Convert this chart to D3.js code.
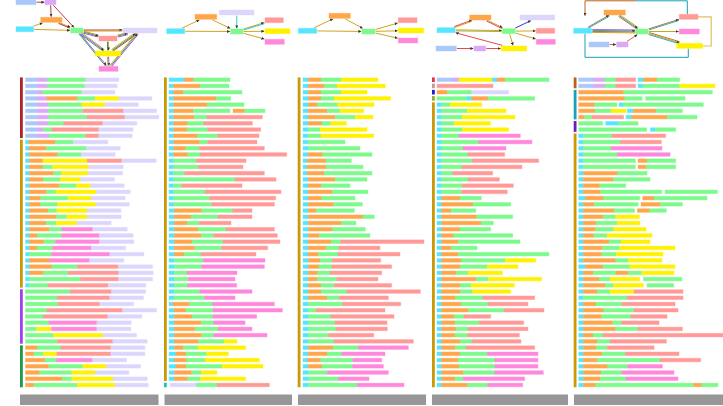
<!DOCTYPE html>
<html><head><meta charset="utf-8">
<script src="https://cdn.jsdelivr.net/npm/d3@7"></script>
<style>body{margin:0;background:#fff}svg{display:block}</style></head>
<body><svg id="c" width="723" height="406"></svg>
<script>
// ---------- DATA ----------
const activityColors = {A:"#aac8fa",V:"#dca8f8",G:"#7dfa8c",L:"#dcd6fc",O:"#ffa64a",Y:"#fff200",S:"#ff9a98",P:"#ff88dc",C:"#55e5ff"};
const gold = "#c99a06";

const panel1Rows = [
"A36 V30 G115 L99","A36 V30 G112 L97","A36 V15 G118 L99","A35 V29 O92 G53 Y71 L99","A36 V33 G100 Y69 L100",
"A36 V33 G104 S121 L99","A36 V33 G116 S113 L102","A36 V33 G45 S118 L102","A36 V17 G26 S141 L103","A36 V35 G110 S39 L100",
"C10 O80 G54 L103","C11 O51 G121 L101","C12 O84 G71 L102","C12 O40 Y133 S104 L103","C12 O41 G28 Y109 L103",
"C12 O72 G24 Y80 L103","C12 O41 G51 Y61 L102","C12 O90 G50 Y42 L102","C12 O51 G28 Y122 L101","C12 O33 G82 Y70 L102",
"C12 O33 G51 Y114 L101","C12 O56 G26 Y91 L101","C12 O81 G30 Y62 L102","C12 O50 G30 Y62 L103","C12 O59 G38 P93 L103",
"C12 O23 G74 P113 L101","C12 O43 G35 P132 L103","C12 O23 G46 P117 L102","C12 G66 P175 L102","C12 O60 P120 L103",
"C12 O67 G77 S122 L103","C12 O42 G74 S152 L103","C12 G153 S114 L102","C12 G56 S180 L113",
"G134 S124 L102","G95 S158 L101","G98 S125 L101","G64 S227 L102","G53 S194 L102","G70 P144 L103","G33 Y45 P136 L102",
"G84 Y148 L101","G96 S166 L103",
"O35 G71 S150 L102","O25 G29 Y40 S162 L102","O59 G34 P108 L102","O70 G102 Y70 L103","O42 G97 Y70 L101",
"O110 G29 Y124 L102","O25 G130 Y113 L100"];
const panel1Groups = [10,24,9,7];
const panel1GroupColors = ["#b22222",gold,"#a040f0","#1a9a4a"];

const panel2Rows = [
"C47 O27 G109","C14 O79 G87","C14 O29 G176","C14 O127 G44","C14 O100 G111","C14 O59 G110 _9 O35 G61",
"C14 O62 G38 S166","C14 O42 G48 S146","C14 O40 G62 S159","C14 O71 G61 S124","C14 O78 G24 S148","C14 O36 G41 S195",
"C14 O42 G37 S260","C14 G68 S149","C14 G75 S133","C14 G33 S239","C14 G184 S123","C14 G25 S180","C14 G94 S228",
"C14 G108 S198","C14 G114 S188","C16 O82 G93 S58","C16 O50 G81 S102","C16 O39 G36 S95","C16 O71 G84 S145",
"C16 O81 G38 S190","C16 O53 G93 S171","C16 O61 G81 S138","C16 O29 G51 S165","C16 G87 P185","C16 G82 P188",
"C16 G38 P150","C16 G42 P140","C16 G40 P147","C16 G76 P157","C16 G91 P91","C11 O50 G69 P186","C16 O35 G81 P208",
"C16 O53 G63 P131","C16 O80 G38 P94","C16 O63 G68 P102","C16 O82 G37 P159","C16 O72 G77 Y39","C16 O27 G44 Y143",
"C21 O30 G62 Y65","C16 O37 G56 Y162","C21 O30 G108 Y123","C16 O52 G29 Y47","C16 O40 G39 Y135","_3 L79 G62 S157"];
const panel2Groups = [49,1];
const panel2GroupColors = [gold,"#1cc4c8"];

const panel3Rows = [
"C16 O38 G60 Y111","C16 O48 G38 Y145","C16 O38 G60 Y78","C16 O38 G39 Y170","C16 O27 G61 Y109","C16 O57 G38 Y71",
"C16 O81 G59 Y54","C16 O41 G26 Y47","C16 G36 Y140","C16 G38 Y158","C16 G110","C16 G155","C16 O43 G148",
"C13 O56 G76","C13 O57 G110","C13 O51 G143","C16 O81 G95","C16 O38 G87","C16 O72 G107","C16 O40 G100",
"C16 O76 G86","C16 O24 G114","C16 O164 G34","C16 O99 G44","C16 O73 G98","C16 O33 G152","C16 O68 G29 S250",
"C16 O54 G37 S124","C16 O30 G59 S186","C16 O35 G37 S145","C16 O32 G39 S179","C16 O28 G37 S155","C16 O26 G59 S124",
"C16 O38 G40 S172","C16 O38 G77 S221","C16 O56 G37 S147","C16 G103 S174","C16 G24 S206","C16 G68 S189",
"C16 G80 S156","C16 G83 S154","C16 G60 S136","C16 G77 S238","C16 O74 G76 P150","C16 O56 G45 P129",
"C14 O39 G97 P86","C16 O41 G91 P93","C16 G57 P183","C16 G90 P92","C16 G147 P140"];
const panel3Groups = [50];
const panel3GroupColors = [gold];

const panel4Rows = [
"A48 V18 Y100 C15 O24 G131","S168","O31 G73 L111","G90 C14 O49 G140","C14 G25 Y95","C14 G77 Y116","C14 G62 Y158",
"C14 G37 Y109","C14 G62 Y139","C14 G52 P184","C14 G111 P160","C14 G64 P129","C14 G79 S110","C14 G91 S200",
"C14 G61 S180","C14 G33 S120","C14 G79 S94","C14 G62 S153","C14 G60 S137","C14 O55 G64","C14 O94 G113",
"C14 O28 G74","C14 O105 G108","C14 O118 G37","C14 O55 G92","C14 O36 G177","C14 O50 G185","C14 O29 G77",
"C14 O50 G272","C14 O58 G133 Y91","C14 O56 G81 Y92","C14 O43 G36 Y103","C14 O103 G36 Y161","C14 O56 G32 Y130",
"C14 O55 G38 Y114","C14 O40 G83 S156","C14 O58 G81 S120","C14 O79 G108 S120","C14 O37 G30 S80","C14 O40 G73 S133",
"C14 O43 G36 S180","C14 O40 G37 S156","C14 O55 G36 S147","C14 O41 G32 S206","C14 O55 G82 P152","C14 O49 G111 P129",
"C14 O52 G108 P129","C14 O65 G94 P146","C14 O40 G25 P184","C14 O78 G60 P105"];
const panel4Groups = [1,1,1,1,46];
const panel4GroupColors = ["#e8323c","#c89898","#1c1cd0","#9aac2c",gold];

const panel5Rows = [
"A44 V35 G32 S60 _7 C16 O41 G68","A44 V35 G32 S60 _7 C16 G109 Y106","O135 G266","O138 G52 _11 G118",
"O48 G67 _6 C14 G239","O49 G48 Y45 _4 C18 O68 G79","O17 G23 S95 _7 C16 O108 G89","G72 _9 C39 G58",
"G204 _11 C15 G61","C14 G86 S161","C14 G111 S123","C14 G84 P152","C14 G102 P158","C14 G156 _8 O27 G86",
"C14 G156 _8 O24 G89","C14 O103 G88","C14 O89 G111","C14 O49 G78","C14 O51 G184 _10 G157",
"C20 O55 G108 _9 O34 G159","C14 O32 G132 _9 O58 G66","C14 O92 G61 _9 O37 G50","C14 O59 G38 Y71",
"C14 O39 G62 Y69","C14 O37 G54 Y97","C14 O31 G40 Y135","C14 O77 G36 Y87","C14 O57 G52 Y166","C14 O55 G43 Y141",
"C14 O97 G38 Y101","C20 O53 G80 Y136","C14 O30 G68 O36 G41 Y97","C14 O47 G33 Y89 _11 G116",
"C14 O66 G24 Y90 _11 G80","C14 O42 G38 Y72 S147","C14 G131 S168","C14 O38 G78 S159","C14 O61 G91 S132",
"C14 O55 G88 S108","C14 O88 G27 S112","C14 O97 G66 S134","C14 O29 G30 S360","C14 O42 G38 S169",
"C14 O38 G34 S140","C14 O57 G69 S161","C14 O42 G188 S122","C14 O73 G60 P104","C14 O53 G63 P156",
"C14 O50 G78 P156","C14 O37 G294 O24 G49"];
const panel5Groups = [2,5,2,41];
const panel5GroupColors = ["#b8621c","#1aa0b8","#6a20b0",gold];

// network diagrams (links: source, target, group colours)
const red1="#b22222", pur1="#a040f0", grn1="#1a9a4a";
const net1Links = [["A","V",[red1]],["V","O",[red1]],["V","G",[red1]],["C","O",[gold]],["O","G",[gold,red1]],
 ["C","G",[gold]],["G","L",[red1,gold]],["G","S",[gold,grn1,pur1]],["G","Y",[gold,pur1,grn1]],["G","P",[pur1,grn1]],
 ["S","Y",[gold,grn1]],["Y","P",[pur1,gold]],["S","L",[gold,grn1,pur1]],["Y","L",[gold,grn1,red1]],["P","L",[gold,grn1,pur1]]];
const net2Links = [["C","O",[gold]],["O","G",[gold]],["C","G",[gold]],["L","G",["#1cc4c8"]],["G","S",[gold,"#1cc4c8"]],["G","Y",[gold]],["G","P",[gold]]];
const net3Links = [["C","O",[gold]],["O","G",[gold]],["C","G",[gold]],["G","S",[gold]],["G","Y",[gold]],["G","P",[gold]]];
const net4Links = [["C","O",["#e8323c",gold]],["O","G",[gold,"#e8323c"]],["C","G",[gold,"#9aac2c"]],["G","L",["#1c1cd0"]],
 ["G","S",[gold]],["G","P",[gold]],["G","Y",[gold]],["Y","C",["#e8323c"]],["A","V",["#e8323c"]],["V","Y",["#e8323c"]]];
const net5Links = [["C","O",["#b8621c","#1aa0b8"]],["O","G",[gold,"#1aa0b8","#b8621c"]],["C","G",["#a060e0","#1aa0b8","#b8621c",gold]],
 ["G","S",["#b8621c","#1aa0b8"]],["G","P",[gold]],["G","Y",["#b8621c",gold,"#1aa0b8"]],["A","V",["#b8621c"]],["V","G",["#b8621c"]]];

// ---------- LAYOUT ----------
const panels = [
 {rows:panel1Rows,groups:panel1Groups,gcol:panel1GroupColors,x0:25.5,gx:20,gray:[20,138.5],links:net1Links,
  nodes:{A:[16,-0.3,20],V:[45,-0.3,11],O:[40.7,17.3,21.3],C:[16,26.7,17.7],G:[70.7,28,12.3],L:[123,28,34],S:[99,36,18],Y:[95.3,51,25.4],P:[99,66.3,19]}},
 {rows:panel2Rows,groups:panel2Groups,gcol:panel2GroupColors,x0:169,gx:164,gray:[164.5,127.5],links:net2Links,
  nodes:{O:[195,14.3,21.7],L:[219.3,10,34.7],C:[166.7,28.7,18],G:[230.7,29,12.3],S:[265,17.7,18.3],Y:[265,28.7,25],P:[265,39.3,19.3]}},
 {rows:panel3Rows,groups:panel3Groups,gcol:panel3GroupColors,x0:303,gx:297.7,gray:[298,128],links:net3Links,
  nodes:{O:[329,13.3,21.3],C:[298.3,28.3,18.4],G:[362,29,13],S:[398.3,17.7,18.7],Y:[398.3,28,25.4],P:[398.3,38,19.4]}},
 {rows:panel4Rows,groups:panel4Groups,gcol:panel4GroupColors,x0:437,gx:432,gray:[432,136],links:net4Links,
  nodes:{O:[469.7,15,21.3],L:[520,15,34.7],C:[437,27.7,18],G:[502.3,28.7,13],S:[536.3,28.3,18.4],P:[536.3,39.3,19],A:[436,46,20.3],V:[474,46,11.7],Y:[501.3,46,25.4]}},
 {rows:panel5Rows,groups:panel5Groups,gcol:panel5GroupColors,x0:578.7,gx:573.7,gray:[574,149],links:net5Links,
  nodes:{O:[604,10,21.3],C:[573.7,28.3,18],G:[636,29,12.3],S:[679.3,14.3,18.7],P:[679.3,29,20],Y:[676.7,43.3,26],A:[589,42,20],V:[616.7,42,11.3]}}
];
const nodeH = 5;

const svg = d3.select("#c");
const y = d3.scaleBand().domain(d3.range(50)).range([76.6, 76.6 + 50*6.23]);
const x = d3.scaleLinear().domain([0, 300]).range([0, 100]);
const barH = 3.6;

svg.append("defs").append("marker").attr("id","arr").attr("viewBox","0 0 6 6").attr("refX",6).attr("refY",3)
  .attr("markerWidth",3).attr("markerHeight",3).attr("markerUnits","userSpaceOnUse").attr("orient","auto")
  .append("path").attr("d","M0,0L6,3L0,6Z").attr("fill","#333");

function parse(row){
  let pos=0; const segs=[];
  row.split(" ").forEach(t=>{const k=t[0], v=+t.slice(1); if(k!=="_") segs.push({k,start:pos,len:v}); pos+=v;});
  return segs;
}

function clip(r, cx, cy, dx, dy){
  const hw=r[2]/2+0.6, hh=nodeH/2+0.6;
  const t=Math.min(dx?hw/Math.abs(dx):Infinity, dy?hh/Math.abs(dy):Infinity);
  return [cx+dx*t, cy+dy*t];
}

panels.forEach((p,pi)=>{
  const g = svg.append("g");
  // gray label bar
  g.append("rect").attr("x",p.gray[0]).attr("y",394.5).attr("width",p.gray[1]).attr("height",10.5).attr("fill","#979797");
  // group bars
  let s=0;
  p.groups.forEach((n,gi)=>{
    const top=y(s)+y.bandwidth()/2-2.3, bot=y(s+n-1)+y.bandwidth()/2+2.3;
    g.append("rect").attr("x",p.gx).attr("y",top).attr("width",2.8).attr("height",bot-top).attr("fill",p.gcol[gi]);
    s+=n;
  });
  // rows
  p.rows.forEach((row,i)=>{
    const cy=y(i)+y.bandwidth()/2;
    g.selectAll(null).data(parse(row)).join("rect")
      .attr("x",d=>p.x0+x(d.start)).attr("y",cy-barH/2).attr("width",d=>x(d.len)).attr("height",barH)
      .attr("fill",d=>activityColors[d.k]).attr("stroke",d=>activityColors[d.k]).attr("stroke-opacity",0.4).attr("stroke-width",1);
  });
  // network links
  const N=p.nodes;
  p.links.forEach(([a,b,cols])=>{
    const ra=N[a], rb=N[b];
    const ax=ra[0]+ra[2]/2, ay=ra[1]+nodeH/2, bx=rb[0]+rb[2]/2, by=rb[1]+nodeH/2;
    let dx=bx-ax, dy=by-ay; const L=Math.hypot(dx,dy); dx/=L; dy/=L;
    const p1=clip(ra,ax,ay,dx,dy), p2=clip(rb,bx,by,-dx,-dy);
    const nx=-dy, ny=dx;
    cols.forEach((c,k)=>{
      const o=(k-(cols.length-1)/2)*1.0;
      const ln=g.append("line").attr("x1",p1[0]+nx*o).attr("y1",p1[1]+ny*o).attr("x2",p2[0]+nx*o).attr("y2",p2[1]+ny*o)
        .attr("stroke",c).attr("stroke-width",0.9);
      if(k===Math.floor((cols.length-1)/2)) ln.attr("marker-end","url(#arr)");
    });
  });
  if(pi===4){
    const brown="#b8621c", teal="#1aa0b8";
    g.append("path").attr("d","M687.3,14.3V0.8H636").attr("fill","none").attr("stroke",teal).attr("stroke-width",1);
    g.append("path").attr("d","M636,0.8H585V15.7").attr("fill","none").attr("stroke",brown).attr("stroke-width",1).attr("marker-end","url(#arr)");
    g.append("path").attr("d","M585,33.7V57.3H688.3V48.7").attr("fill","none").attr("stroke",teal).attr("stroke-width",1);
    g.append("path").attr("d","M698,16.8H711.2V46H702.7").attr("fill","none").attr("stroke","#e0c060").attr("stroke-width",1.2);
  }
  // nodes
  Object.entries(N).forEach(([k,r])=>{
    g.append("rect").attr("x",r[0]).attr("y",r[1]).attr("width",r[2]).attr("height",nodeH)
      .attr("fill",activityColors[k]).attr("stroke",activityColors[k]).attr("stroke-opacity",0.4).attr("stroke-width",1);
  });
});
</script></body></html>
